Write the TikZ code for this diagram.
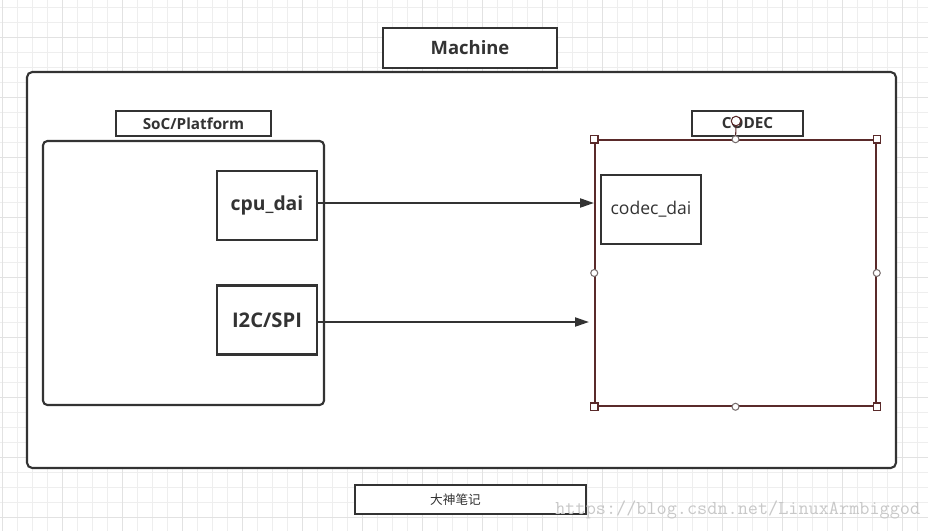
\documentclass[tikz,border=0pt]{standalone}
\usepackage{fontspec}
\usetikzlibrary{arrows.meta}
\newfontfamily\labelfont{Open Sans}
\newfontfamily\cjk{Noto Sans CJK SC}
\definecolor{ink}{HTML}{333333}
\definecolor{selred}{HTML}{5A2A2A}
\definecolor{gridgray}{HTML}{EEEEEE}
\definecolor{gridmajor}{HTML}{E2E2E2}
\definecolor{markgray}{HTML}{C8C8C8}
\begin{document}
\begin{tikzpicture}[x=0.02cm,y=-0.02cm,
    box/.style={draw=ink,line width=1.2pt,fill=white,inner sep=0pt},
    arr/.style={draw=ink,line width=1.2pt,-{Triangle[length=0.28cm,width=0.18cm]}},
    handle/.style={draw=selred,fill=white,line width=0.6pt,inner sep=0pt}]
  \useasboundingbox (0,0) rectangle (928,531);
  % grid
  \fill[white] (0,0) rectangle (928,531);
  \foreach \i in {0,...,61}
    \draw[gridgray,line width=0.5pt] ({2.7+15*\i},0) -- ({2.7+15*\i},531);
  \foreach \i in {0,...,35}
    \draw[gridgray,line width=0.5pt] (0,{7.3+15*\i}) -- (928,{7.3+15*\i});
  \foreach \i in {0,...,15}
    \draw[gridmajor,line width=0.6pt] ({2.7+60*\i},0) -- ({2.7+60*\i},531);
  \foreach \i in {0,...,8}
    \draw[gridmajor,line width=0.6pt] (0,{37.3+60*\i}) -- (928,{37.3+60*\i});
  % machine
  \draw[ink,line width=1.2pt,fill=white,rounded corners=3pt] (27,72) rectangle (896,468);
  \node[box,minimum width=3.48cm,minimum height=0.8cm,font=\labelfont\bfseries\fontsize{10.5}{12}\selectfont,text=ink]
    (machine) at (470,48) {Machine};
  % soc side
  \node[box,minimum width=3.1cm,minimum height=0.5cm,font=\labelfont\bfseries\fontsize{8.7}{10}\selectfont,text=ink]
    (soclabel) at (193.5,123.5) {SoC/Platform};
  \draw[ink,line width=1.2pt,rounded corners=2.5pt] (43,141) rectangle (324,405);
  \node[box,minimum width=2cm,minimum height=1.38cm,font=\labelfont\bfseries\fontsize{11}{13}\selectfont,text=ink]
    (cpu) at (267,205.5) {cpu\_dai};
  \node[box,minimum width=2cm,minimum height=1.38cm,font=\labelfont\bfseries\fontsize{11.5}{13}\selectfont,text=ink]
    (i2c) at (267,320) {I2C/SPI};
  % codec side
  \node[draw=selred,line width=0.9pt,inner sep=0pt,minimum width=5.62cm,minimum height=5.32cm]
    (codec) at (735.5,273) {};
  \node[box,minimum width=2.22cm,minimum height=0.5cm,font=\labelfont\bfseries\fontsize{8.7}{10}\selectfont,text=ink]
    (codeclabel) at (747.5,123.5) {CODEC};
  \node[box,minimum width=2cm,minimum height=1.38cm,font=\labelfont\fontsize{10}{12}\selectfont,text=ink]
    (codecdai) at (651,209.5) {codec\_dai};
  % selection handles
  \node[handle,circle,minimum size=0.19cm] (rot) at (736,121) {};
  \draw[selred,line width=0.6pt] (rot.south) -- (codec.north);
  \foreach \a in {north west,north east,south west,south east}
    \node[handle,minimum size=0.15cm] at (codec.\a) {};
  \foreach \a in {north,south,west,east}
    \node[handle,circle,draw=gray!80!selred,minimum size=0.14cm] at (codec.\a) {};
  % links
  \coordinate (cpuend) at (594,203);
  \coordinate (i2cend) at (589,322);
  \draw[arr] (cpu.east |- cpuend) -- (cpuend);
  \draw[arr] (i2c.east |- i2cend) -- (i2cend);
  % note
  \node[box,minimum width=4.62cm,minimum height=0.58cm] (note) at (470.5,499.5) {};
  \node[inner sep=0pt,font=\cjk\fontsize{7.2}{9}\selectfont,text=ink]
    (notetext) at (455.5,499.5) {大神笔记};
  \node[anchor=west,inner sep=0pt,text=markgray,font=\ttfamily\fontsize{11.2}{12}\selectfont]
    (mark) at (555,510) {https://blog.csdn.net/LinuxArmbiggod};
\end{tikzpicture}
\end{document}
